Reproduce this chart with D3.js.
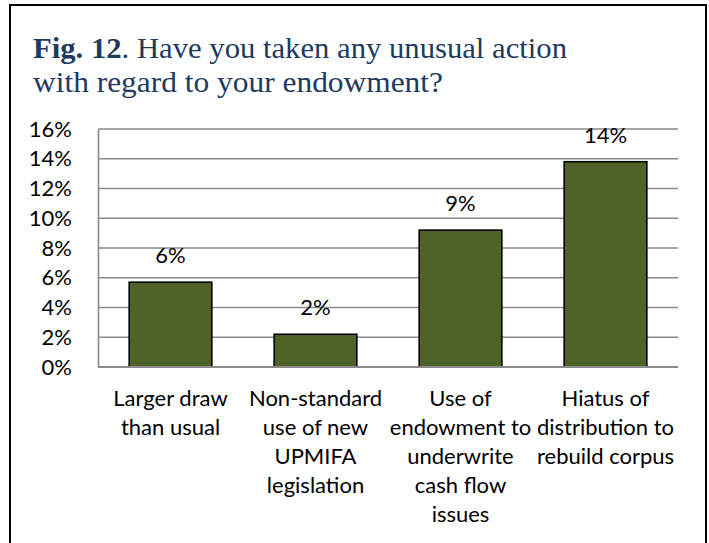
<!DOCTYPE html>
<html>
<head>
<meta charset="utf-8">
<script src="https://cdn.jsdelivr.net/npm/d3@7"></script>
<style>
  html, body { margin: 0; padding: 0; background: #fff; }
  svg { display: block; }
</style>
</head>
<body>
<svg id="chart" width="709" height="543"></svg>
<script>
// Survey responses: share of institutions taking each action
const categories = [
  ["Larger draw", "than usual"],
  ["Non-standard", "use of new", "UPMIFA", "legislation"],
  ["Use of", "endowment to", "underwrite", "cash flow", "issues"],
  ["Hiatus of", "distribution to", "rebuild corpus"]
];
const values = [0.057, 0.022, 0.092, 0.138];
const yTicks = [0, 0.02, 0.04, 0.06, 0.08, 0.10, 0.12, 0.14, 0.16];

const svg = d3.select("#chart");
const W = 709, H = 543;
const plot = { left: 98, right: 678, top: 129, bottom: 367 };
const labelFont = "Lato, 'Open Sans', sans-serif";
const titleColor = "#1f3a60";

// outer frame
svg.append("rect")
  .attr("x", 10).attr("y", 5)
  .attr("width", 696).attr("height", 600)
  .attr("fill", "#fff")
  .attr("stroke", "#000")
  .attr("stroke-width", 2);

// title, two lines
const t1 = svg.append("text")
  .attr("x", 33).attr("y", 58)
  .attr("font-family", "'Liberation Serif', 'DejaVu Serif', serif")
  .attr("font-size", 30)
  .attr("fill", titleColor)
  .attr("textLength", 534)
  .attr("lengthAdjust", "spacingAndGlyphs");
t1.append("tspan").attr("font-weight", "bold").text("Fig. 12");
t1.append("tspan").text(". Have you taken any unusual action");

svg.append("text")
  .attr("x", 33).attr("y", 92)
  .attr("font-family", "'Liberation Serif', 'DejaVu Serif', serif")
  .attr("font-size", 30)
  .attr("fill", titleColor)
  .attr("textLength", 410)
  .attr("lengthAdjust", "spacingAndGlyphs")
  .text("with regard to your endowment?");

// scales
const x = d3.scaleBand()
  .domain(d3.range(categories.length))
  .range([plot.left, plot.right])
  .paddingInner(0.43)
  .paddingOuter(0.215);

const y = d3.scaleLinear()
  .domain([0, 0.16])
  .range([plot.bottom, plot.top]);

// horizontal gridlines
svg.append("g")
  .selectAll("line")
  .data(yTicks.filter(d => d > 0))
  .join("line")
  .attr("x1", plot.left).attr("x2", plot.right)
  .attr("y1", d => y(d)).attr("y2", d => y(d))
  .attr("stroke", "#8a8a8a")
  .attr("stroke-width", 1.6);

// y axis
const yAxis = d3.axisLeft(y)
  .tickValues(yTicks)
  .tickFormat(d3.format(".0%"))
  .tickSize(0)
  .tickPadding(26);

const gy = svg.append("g")
  .attr("transform", `translate(${plot.left},0)`)
  .call(yAxis);
gy.select(".domain").attr("stroke", "#8a8a8a").attr("stroke-width", 1.6);
gy.selectAll("text")
  .attr("font-family", labelFont)
  .attr("font-size", 22)
  .attr("fill", "#000");

// bars
svg.append("g")
  .selectAll("rect")
  .data(values)
  .join("rect")
  .attr("x", (d, i) => x(i))
  .attr("y", d => y(d))
  .attr("width", x.bandwidth())
  .attr("height", d => y(0) - y(d))
  .attr("fill", "#4f6228")
  .attr("stroke", "#000")
  .attr("stroke-width", 1.6);

// x axis baseline
svg.append("line")
  .attr("x1", plot.left).attr("x2", plot.right)
  .attr("y1", y(0)).attr("y2", y(0))
  .attr("stroke", "#8a8a8a")
  .attr("stroke-width", 2);

// value labels
svg.append("g")
  .selectAll("text")
  .data(values)
  .join("text")
  .attr("x", (d, i) => x(i) + x.bandwidth() / 2)
  .attr("y", d => y(d) - 19)
  .attr("text-anchor", "middle")
  .attr("font-family", labelFont)
  .attr("font-size", 22)
  .attr("fill", "#000")
  .text(d => d3.format(".0%")(d));

// category labels, wrapped
const cat = svg.append("g")
  .selectAll("text")
  .data(categories)
  .join("text")
  .attr("x", (d, i) => x(i) + x.bandwidth() / 2)
  .attr("y", 406)
  .attr("text-anchor", "middle")
  .attr("font-family", labelFont)
  .attr("font-size", 22)
  .attr("fill", "#000");
cat.each(function(lines, i) {
  const el = d3.select(this);
  lines.forEach((ln, k) => {
    el.append("tspan")
      .attr("x", x(i) + x.bandwidth() / 2)
      .attr("y", 406 + k * 29)
      .text(ln);
  });
});
</script>
</body>
</html>
